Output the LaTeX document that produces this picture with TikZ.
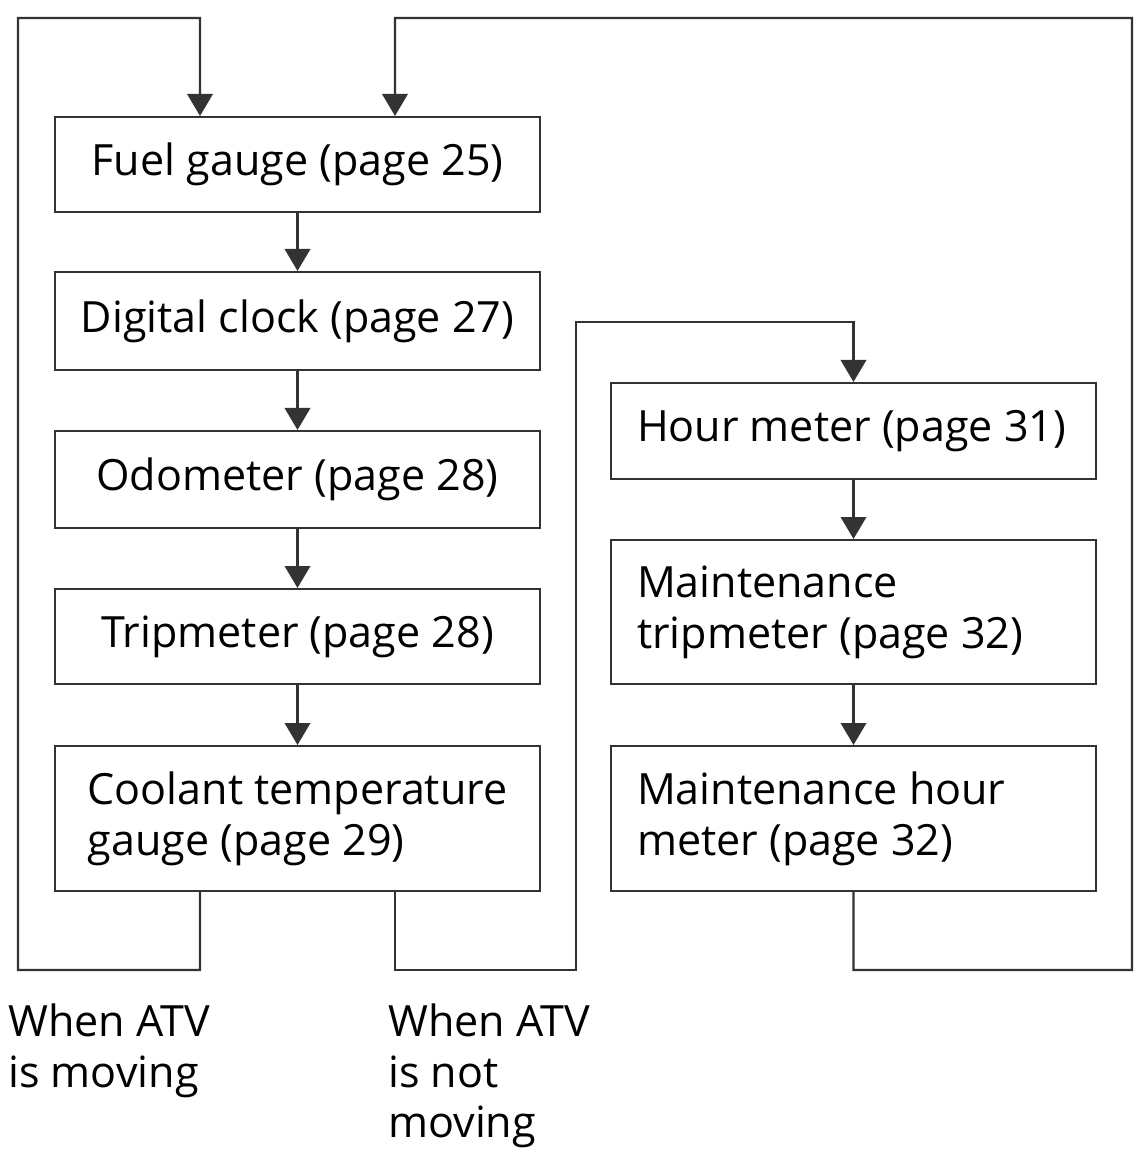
\documentclass[tikz,border=0pt]{standalone}
\usepackage{fontspec}
\setmainfont{Open Sans}
\usetikzlibrary{arrows.meta}
\definecolor{linegray}{HTML}{333333}
\begin{document}
\begin{tikzpicture}[x=0.02cm,y=-0.02cm]
	\tikzset{>={Triangle[width=14.5pt,length=12.5pt]}}
	\tikzset{box/.style={draw=linegray, line width=1.2pt, minimum width=9.7cm, inner sep=0pt, align=left, font=\fontsize{24.5}{29}\selectfont}}
	\tikzset{rbox/.style={box, align=flush left, text width=8.66cm, inner xsep=0.5cm}}
	\tikzset{link/.style={draw=linegray, line width=1.2pt, ->}}
	\tikzset{note/.style={anchor=north west, inner sep=0pt, align=left, font=\fontsize{24.5}{29}\selectfont}}
	\useasboundingbox (0,0) rectangle (1140,1156);

	% left column
	\node[box, minimum height=1.9cm] (fuel) at (297.5,164.5) {Fuel gauge (page 25)};
	\node[box, minimum height=1.96cm] (clock) at (297.5,321) {Digital clock (page 27)};
	\node[box, minimum height=1.94cm] (odo) at (297.5,479.5) {Odometer (page 28)};
	\node[box, minimum height=1.9cm] (trip) at (297.5,636.5) {Tripmeter (page 28)};
	\node[box, minimum height=2.9cm] (coolant) at (297.5,818.5) {Coolant temperature\\gauge (page 29)};

	% right column
	\node[rbox, minimum height=1.92cm] (hour) at (853.5,431) {Hour meter (page 31)};
	\node[rbox, minimum height=2.88cm] (mtrip) at (853.5,612) {Maintenance\\tripmeter (page 32)};
	\node[rbox, minimum height=2.9cm] (mhour) at (853.5,818.5) {Maintenance hour\\meter (page 32)};

	\draw[link] (fuel) -- (clock);
	\draw[link] (clock) -- (odo);
	\draw[link] (odo) -- (trip);
	\draw[link] (trip) -- (coolant);
	\draw[link] (hour) -- (mtrip);
	\draw[link] (mtrip) -- (mhour);

	% loops
	\coordinate (mvA) at (18,970);
	\coordinate (mvB) at (200,18);
	\coordinate (stA) at (576,970);
	\coordinate (stB) at (853.5,322);
	\coordinate (rtA) at (1132,970);
	\coordinate (rtB) at (395,18);
	\draw[link] ([xshift=-1.95cm]coolant.south) |- (mvA) |- (mvB) -- ([xshift=-1.95cm]fuel.north);
	\draw[link] ([xshift=1.95cm]coolant.south) |- (stA) |- (stB) -- (hour.north);
	\draw[link] (mhour.south) |- (rtA) |- (rtB) -- ([xshift=1.95cm]fuel.north);

	\node[note] (moving) at (8,1003) {When ATV\\is moving};
	\node[note] (still) at (388,1003) {When ATV\\is not\\moving};
\end{tikzpicture}
\end{document}
